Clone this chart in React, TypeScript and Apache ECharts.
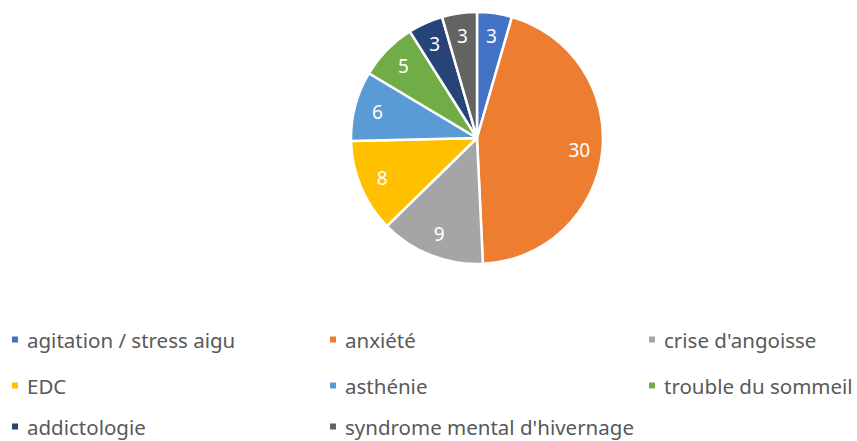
import React, { useEffect, useRef } from "react";
import * as echarts from "echarts";

const categories = [
  "agitation / stress aigu",
  "anxiété",
  "crise d'angoisse",
  "EDC",
  "asthénie",
  "trouble du sommeil",
  "addictologie",
  "syndrome mental d'hivernage",
];
const values = [3, 30, 9, 8, 6, 5, 3, 3];
const colors = ["#4472C4", "#ED7D31", "#A5A5A5", "#FFC000", "#5B9BD5", "#70AD47", "#264478", "#636363"];

const colX = [10, 328, 647];
const rowY = [339, 385, 426];

export default function App() {
  const ref = useRef<HTMLDivElement>(null);
  useEffect(() => {
    if (!ref.current) return;
    const chart = echarts.init(ref.current, undefined, { renderer: "svg" });
    const data = categories.map((name, i) => ({ name, value: values[i], itemStyle: { color: colors[i] } }));
    chart.setOption({
      animation: false,
      backgroundColor: "#ffffff",
      textStyle: { fontFamily: "Noto Sans" },
      legend: categories.map((name, i) => ({
        data: [name],
        left: colX[i % 3],
        top: rowY[Math.floor(i / 3)] - 10,
        height: 20,
        icon: "rect",
        itemWidth: 8,
        itemHeight: 8,
        itemGap: 0,
        padding: 0,
        selectedMode: false,
        textStyle: {
          color: "#595959",
          fontSize: 20.5,
          lineHeight: 20,
          fontFamily: "Noto Sans",
          padding: [0, 0, 0, 3],
        },
      })),
      series: [
        {
          type: "pie",
          center: [477, 138],
          radius: [0, 126],
          startAngle: 90,
          clockwise: true,
          data,
          label: { show: false },
          labelLine: { show: false },
          itemStyle: { borderColor: "#ffffff", borderWidth: 2.5 },
          emphasis: { disabled: true },
        },
        {
          type: "pie",
          center: [477, 138],
          radius: [74, 126],
          startAngle: 90,
          clockwise: true,
          silent: true,
          legendHoverLink: false,
          data: categories.map((name, i) => ({ name: name + " ", value: values[i] })),
          itemStyle: { color: "rgba(0,0,0,0)" },
          label: {
            show: true,
            position: "inside",
            formatter: "{c}",
            color: "#ffffff",
            fontSize: 19,
            fontFamily: "Noto Sans",
          },
          labelLine: { show: false },
          emphasis: { disabled: true },
        },
      ],
    });
    return () => chart.dispose();
  }, []);
  return <div ref={ref} style={{ position: "fixed", left: 0, top: 0, width: 857, height: 441 }} />;
}
